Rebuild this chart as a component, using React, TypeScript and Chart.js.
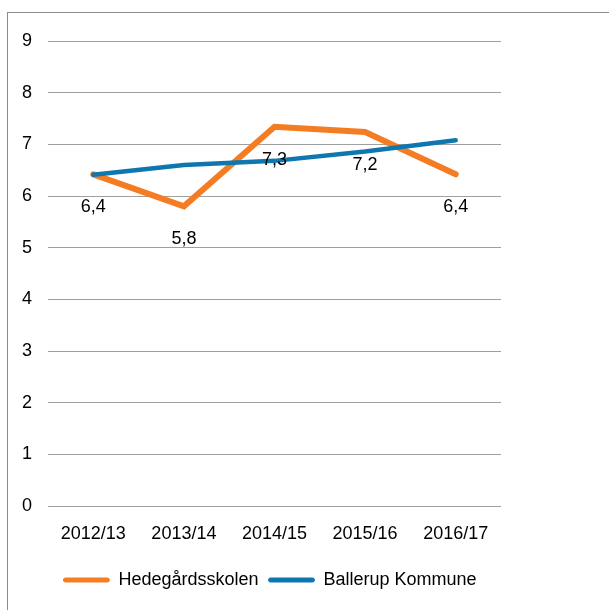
import { useEffect, useRef } from "react";
import { Chart, registerables } from "chart.js";

Chart.register(...registerables);

const categories = ["2012/13", "2013/14", "2014/15", "2015/16", "2016/17"];
const hedegaardValues = [6.42, 5.8, 7.34, 7.24, 6.42];
const ballerupValues = [6.41, 6.6, 6.68, 6.86, 7.08];
const seriesNames = ["Hedegårdsskolen", "Ballerup Kommune"];
const yMin = 0;
const yMax = 9;
const yStep = 1;

const ORANGE = "#F47C22";
const BLUE = "#0F77AF";
const FONT = "Liberation Sans, Arial, sans-serif";

const fmt = (v: number) => v.toFixed(1).replace(".", ",");

const dataLabelPlugin = {
  id: "dataLabels",
  afterDatasetsDraw(chart: any) {
    const meta = chart.getDatasetMeta(0);
    const ctx = chart.ctx;
    ctx.save();
    ctx.font = `18px ${FONT}`;
    ctx.fillStyle = "#000";
    ctx.textAlign = "center";
    ctx.textBaseline = "middle";
    meta.data.forEach((pt: any, i: number) => {
      ctx.fillText(fmt(hedegaardValues[i]), pt.x, pt.y + 33);
    });
    ctx.restore();
  },
};

const legendShiftPlugin = {
  id: "legendShift",
  afterLayout(chart: any) {
    if (chart.legend) chart.legend.left += 39;
  },
};

export default function App() {
  const ref = useRef<HTMLCanvasElement>(null);
  useEffect(() => {
    if (!ref.current) return;
    const chart = new Chart(ref.current, {
      type: "line",
      data: {
        labels: categories,
        datasets: [
          {
            label: seriesNames[0],
            data: hedegaardValues,
            borderColor: ORANGE,
            backgroundColor: ORANGE,
            borderWidth: 6,
            borderCapStyle: "round",
            borderJoinStyle: "miter",
            pointRadius: 0,
            tension: 0,
            order: 1,
          },
          {
            label: seriesNames[1],
            data: ballerupValues,
            borderColor: BLUE,
            backgroundColor: BLUE,
            borderWidth: 4.5,
            borderCapStyle: "round",
            borderJoinStyle: "round",
            pointRadius: 0,
            tension: 0,
            order: 0,
          },
        ],
      },
      options: {
        animation: false,
        responsive: false,
        layout: { padding: { left: 0, right: 108, top: 41, bottom: 11 } },
        scales: {
          x: {
            offset: true,
            grid: { display: false },
            border: { display: false },
            ticks: { color: "#000", font: { size: 18, family: FONT }, padding: 9 },
            afterFit: (s: any) => {
              s.height = 55;
            },
          },
          y: {
            min: yMin,
            max: yMax,
            grid: { color: "#a0a0a0", lineWidth: 1, drawTicks: false },
            border: { display: false },
            ticks: { stepSize: yStep, color: "#000", font: { size: 18, family: FONT }, padding: 16 },
            afterFit: (s: any) => {
              s.width = 48;
            },
          },
        },
        plugins: {
          legend: {
            position: "bottom",
            labels: {
              color: "#000",
              font: { size: 18, family: FONT },
              boxWidth: 46,
              boxHeight: 4,
              padding: 10,
              generateLabels: (c: any) =>
                c.data.datasets.map((d: any, i: number) => ({
                  text: d.label,
                  fillStyle: d.borderColor,
                  strokeStyle: d.borderColor,
                  lineWidth: 1,
                  borderRadius: 2,
                  fontColor: "#000",
                  hidden: false,
                  datasetIndex: i,
                })),
            },
          },
          tooltip: { enabled: false },
        },
      },
      plugins: [dataLabelPlugin, legendShiftPlugin],
    });
    return () => chart.destroy();
  }, []);

  return (
    <div style={{ position: "fixed", left: 0, top: 0, width: 609, height: 610, overflow: "hidden", background: "#fff" }}>
      <div
        style={{
          position: "absolute",
          left: 7,
          top: 12,
          width: 640,
          height: 640,
          border: "1px solid #8c8c8c",
        }}
      />
      <canvas ref={ref} width={609} height={610} style={{ position: "absolute", left: 0, top: 0 }} />
    </div>
  );
}
